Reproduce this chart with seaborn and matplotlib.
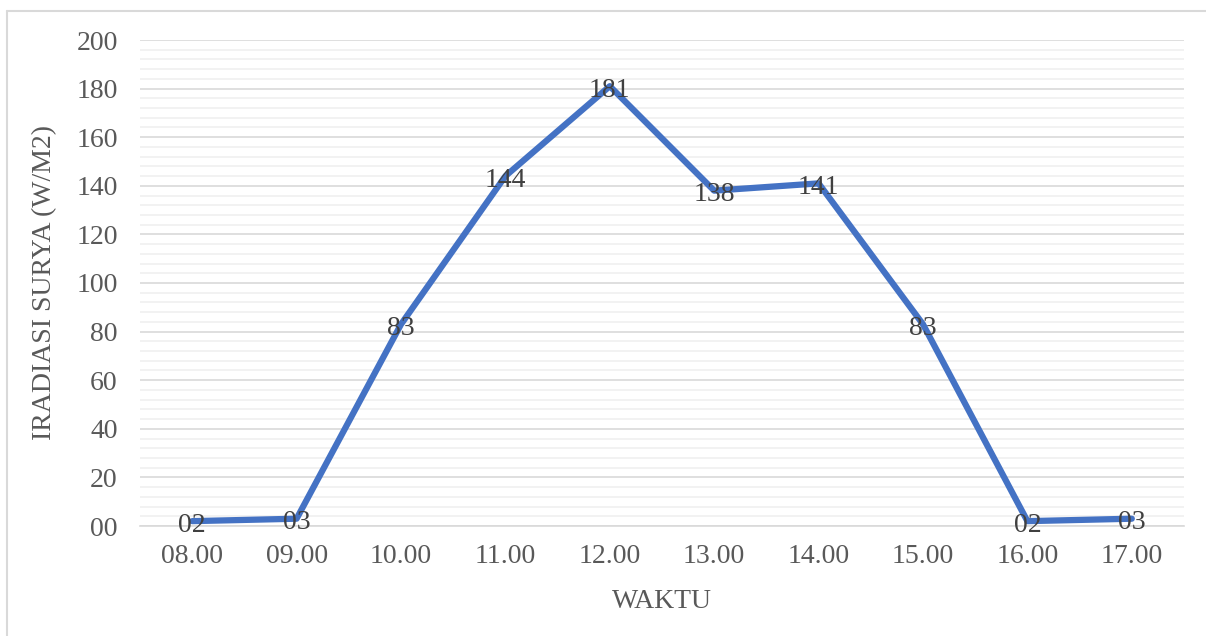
import numpy as np
import pandas as pd
import matplotlib
matplotlib.use('Agg')
import matplotlib.pyplot as plt
import seaborn as sns
from matplotlib.lines import Line2D
from matplotlib.ticker import MultipleLocator, FuncFormatter

# data
waktu = ['08.00', '09.00', '10.00', '11.00', '12.00', '13.00', '14.00', '15.00', '16.00', '17.00']
irradiasi = [2, 3, 83, 144, 181, 138, 141, 83, 2, 3]

df = pd.DataFrame({'Waktu': waktu, 'Irradiasi': irradiasi})

sns.set_style('white')
plt.rcParams['font.family'] = ['Liberation Serif', 'DejaVu Serif']

fig = plt.figure(figsize=(12.06, 6.36), dpi=100)
ax = fig.add_axes([140 / 1206, 1 - 526 / 636, 1044 / 1206, 486 / 636])

sns.lineplot(data=df, x='Waktu', y='Irradiasi', sort=False, color='#4472C4',
             linewidth=4.5, ax=ax, zorder=3)

# data labels centred on the points (slightly below, like the original)
for i, v in enumerate(df['Irradiasi']):
    ax.annotate(f'{v:02d}', (i, v), xytext=(0, -3), textcoords='offset points',
                ha='center', va='center', fontsize=20, color='#404040', zorder=4)

ax.set_xlim(-0.5, len(waktu) - 0.5)
ax.set_ylim(0, 200)
ax.yaxis.set_major_locator(MultipleLocator(20))
ax.yaxis.set_minor_locator(MultipleLocator(4))
ax.yaxis.set_major_formatter(FuncFormatter(lambda x, loc: f'{int(x):02d}'))
ax.grid(axis='y', which='major', color='#D9D9D9', linewidth=1.2, zorder=1)
ax.grid(axis='y', which='minor', color='#F0F0F0', linewidth=1.2, zorder=1)
ax.grid(axis='x', visible=False)
for s in ['top', 'right', 'left']:
    ax.spines[s].set_visible(False)
ax.spines['bottom'].set_color('#D9D9D9')
ax.spines['bottom'].set_linewidth(1.2)
ax.tick_params(axis='both', which='both', length=0, labelsize=20, labelcolor='#595959')
ax.tick_params(axis='x', pad=13)
ax.tick_params(axis='y', pad=16)

ax.set_xlabel('WAKTU', fontsize=20, color='#595959', labelpad=14)
ax.set_ylabel('IRADIASI SURYA (W/M2)', fontsize=20, color='#595959', labelpad=14)

# chart frame: only the top and left edges are visible in the crop
fig.lines.append(Line2D([7 / 1206, 7 / 1206], [0, 1 - 11 / 636], transform=fig.transFigure,
                        color='#D9D9D9', linewidth=1.5))
fig.lines.append(Line2D([7 / 1206, 1], [1 - 11 / 636, 1 - 11 / 636], transform=fig.transFigure,
                        color='#D9D9D9', linewidth=1.5))

fig.savefig('out.png', dpi=100)
